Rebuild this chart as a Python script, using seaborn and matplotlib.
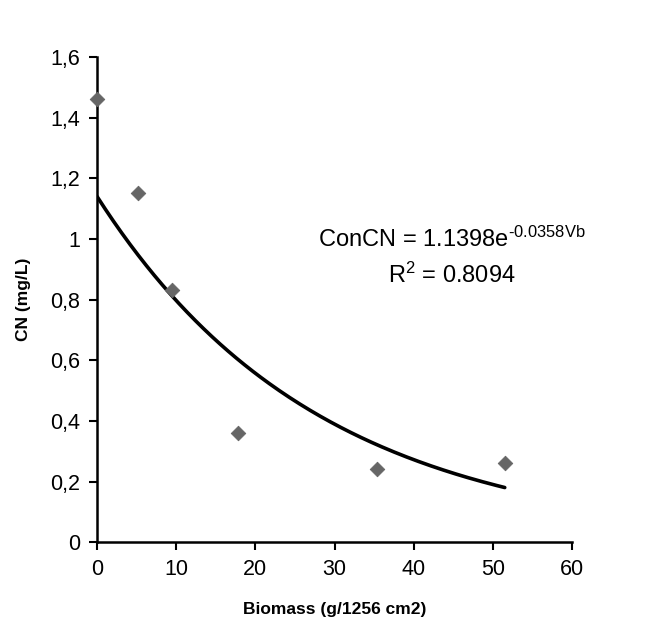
import matplotlib
matplotlib.use('Agg')
from matplotlib import pyplot as plt
import numpy as np
import pandas as pd
import seaborn as sns

# measured points
biomass = [0.0, 5.2, 9.5, 17.8, 35.3, 51.5]
cn = [1.46, 1.15, 0.83, 0.36, 0.24, 0.26]

# exponential trendline coefficients shown on the chart
fit_a = 1.1398
fit_k = -0.0358
fit_r2 = 0.8094

x_ticks = [0, 10, 20, 30, 40, 50, 60]
y_ticks = [0, 0.2, 0.4, 0.6, 0.8, 1.0, 1.2, 1.4, 1.6]

sns.set_style('ticks')
plt.rcParams['font.family'] = ['Liberation Sans', 'DejaVu Sans']
plt.rcParams['text.color'] = 'black'
plt.rcParams['mathtext.fontset'] = 'custom'
plt.rcParams['mathtext.rm'] = 'Liberation Sans'
plt.rcParams['mathtext.default'] = 'regular'
plt.rcParams['axes.unicode_minus'] = False

fig = plt.figure(figsize=(6.56, 6.19), dpi=100)
ax = fig.add_axes([0.148, 0.124, 0.724, 0.784])

pts = pd.DataFrame({'Biomass': biomass, 'CN': cn})
xs = np.linspace(min(biomass), max(biomass), 200)
trend = pd.DataFrame({'Biomass': xs, 'CN': fit_a * np.exp(fit_k * xs)})

sns.lineplot(data=trend, x='Biomass', y='CN', color='black', linewidth=2.6, ax=ax)
sns.scatterplot(data=pts, x='Biomass', y='CN', marker='D', s=55, color='#666666',
                edgecolor='#666666', ax=ax, zorder=3, clip_on=False)

ax.set_xlim(0, 60)
ax.set_ylim(0, 1.6)
ax.set_xticks(x_ticks)
ax.set_yticks(y_ticks)
ax.set_xticklabels([str(t) for t in x_ticks], fontsize=15.5, color='black')
ax.set_yticklabels([('%g' % t).replace('.', ',') for t in y_ticks], fontsize=15.5, color='black')
ax.tick_params(direction='out', length=6, width=1.5, color='black', pad=6)
for s in ['left', 'bottom']:
    ax.spines[s].set_linewidth(1.8)
    ax.spines[s].set_color('black')
sns.despine(ax=ax)

ax.set_xlabel('Biomass (g/1256 cm2)', fontsize=12.5, fontweight='bold', labelpad=16, color='black')
ax.set_ylabel('CN (mg/L)', fontsize=12.5, fontweight='bold', labelpad=14, color='black')

ax.text(44.8, 1.0, r'ConCN = %.4fe$^{\text{%.4fVb}}$' % (fit_a, fit_k), fontsize=17,
        ha='center', va='center')
ax.text(44.8, 0.88, 'R$^2$ = %.4f' % fit_r2, fontsize=17, ha='center', va='center')

fig.savefig('out.png', dpi=100)
